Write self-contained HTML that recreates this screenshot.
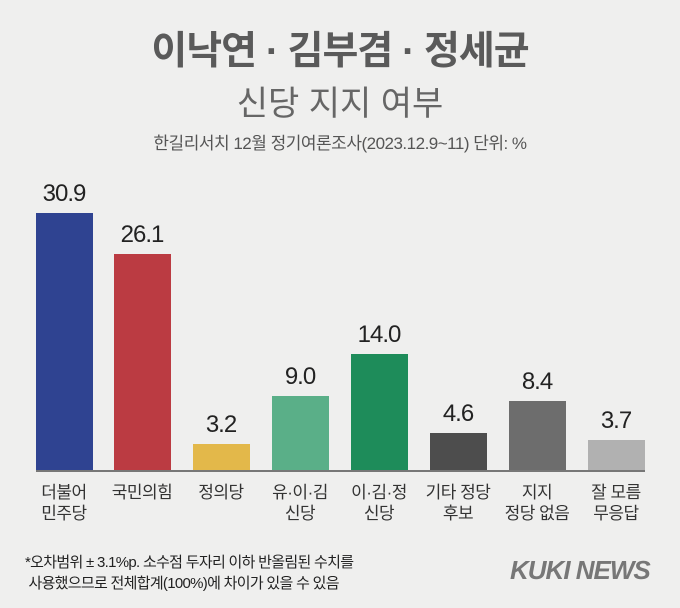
<!DOCTYPE html>
<html><head><meta charset="utf-8"><style>
body{margin:0;width:680px;height:608px;background:#efefee;font-family:"Liberation Sans","Noto Sans CJK KR",sans-serif;position:relative;overflow:hidden;color:#333}
.a{position:absolute}
.t{left:0;width:680px;text-align:center}
.bar{position:absolute;width:57px}
.v{position:absolute;width:80px;text-align:center;font-size:24px;color:#222;letter-spacing:-1px}
.l{position:absolute;width:90px;text-align:center;font-size:17px;line-height:21px;top:482px;color:#333;letter-spacing:-0.5px}
</style></head><body>
<div class="a t" style="top:20px;font-size:39px;font-weight:bold;color:#5a5a5a;letter-spacing:-1px">이낙연 · 김부겸 · 정세균</div>
<div class="a t" style="top:76px;font-size:34px;color:#666">신당 지지 여부</div>
<div class="a t" style="top:129px;font-size:17px;color:#555;letter-spacing:-0.5px">한길리서치 12월 정기여론조사(2023.12.9~11) 단위: %</div>

<div class="bar" style="left:36px;height:258px;top:213px;background:#2f4391"></div>
<div class="bar" style="left:114px;height:217px;top:254px;background:#bb3b42"></div>
<div class="bar" style="left:193px;height:27px;top:444px;background:#e3b84a"></div>
<div class="bar" style="left:272px;height:75px;top:396px;background:#5aaf88"></div>
<div class="bar" style="left:351px;height:117px;top:354px;background:#1e8c5a"></div>
<div class="bar" style="left:430px;height:38px;top:433px;background:#4d4d4d"></div>
<div class="bar" style="left:509px;height:70px;top:401px;background:#6d6d6d"></div>
<div class="bar" style="left:588px;height:31px;top:440px;background:#b1b1b1"></div>
<div class="a" style="left:36px;width:609px;top:470px;height:2px;background:#777"></div>

<div class="v" style="left:24px;top:180px">30.9</div>
<div class="v" style="left:102px;top:221px">26.1</div>
<div class="v" style="left:181px;top:411px">3.2</div>
<div class="v" style="left:260px;top:363px">9.0</div>
<div class="v" style="left:339px;top:321px">14.0</div>
<div class="v" style="left:418px;top:400px">4.6</div>
<div class="v" style="left:497px;top:368px">8.4</div>
<div class="v" style="left:576px;top:407px">3.7</div>

<div class="l" style="left:19px">더불어<br>민주당</div>
<div class="l" style="left:97px">국민의힘</div>
<div class="l" style="left:176px">정의당</div>
<div class="l" style="left:255px">유·이·김<br>신당</div>
<div class="l" style="left:334px">이·김·정<br>신당</div>
<div class="l" style="left:413px">기타 정당<br>후보</div>
<div class="l" style="left:492px">지지<br>정당 없음</div>
<div class="l" style="left:571px">잘 모름<br>무응답</div>

<div class="a" style="left:25px;top:552px;font-size:15px;line-height:21px;color:#222;letter-spacing:-0.7px">*오차범위 ± 3.1%p. 소수점 두자리 이하 반올림된 수치를<br>&nbsp;사용했으므로 전체합계(100%)에 차이가 있을 수 있음</div>
<div class="a" style="left:510px;top:555px;font-size:26px;font-weight:bold;font-style:italic;color:#777;letter-spacing:-1px">KUKI NEWS</div>
</body></html>
